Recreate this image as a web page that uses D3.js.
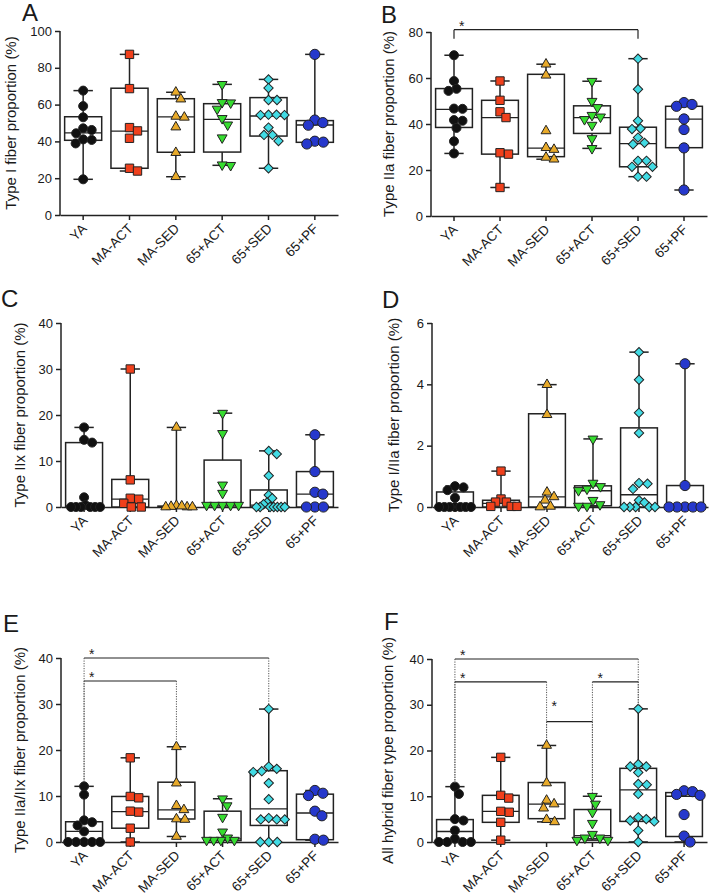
<!DOCTYPE html>
<html><head><meta charset="utf-8">
<script src="https://cdn.jsdelivr.net/npm/d3@7"></script>
<style>
body{margin:0;background:#fff}
svg{display:block}
text{font-family:Arial,"Liberation Sans",sans-serif;fill:#1a1a1a}
</style>
</head><body>
<svg id="chart" width="709" height="895"></svg>
<script>
// ---------- DATA ----------
const groups = ["YA","MA-ACT","MA-SED","65+ACT","65+SED","65+PF"];

// Panel A: Type I fiber proportion (%)
const typeIValues = [
  [67.6, 59.2, 53.1, 47.1, 46.2, 44.4, 41.1, 40.8, 38.9, 19.4],
  [87.3, 68.7, 47.5, 45.7, 41.7, 25.4, 23.9],
  [66.7, 63.0, 53.6, 53.1, 47.8, 33.9, 20.8],
  [71.0, 61.0, 61.2, 57.6, 52.5, 49.0, 42.0, 27.0, 27.3],
  [73.7, 69.0, 62.5, 62.5, 54.5, 54.3, 54.3, 54.5, 47.5, 43.5, 43.5, 40.2, 25.4],
  [87.3, 51.6, 50.2, 48.8, 40.1, 39.6, 38.6]
];
const typeIBoxes = [[40.6,44.6,53.4],[25.4,45.6,68.9],[34.1,53.3,63.2],[34.2,52.0,60.5],[42.9,53.8,63.8],[39.5,48.9,51.3]];
const typeITicks = [0,20,40,60,80,100];

// Panel B: Type IIa
const typeIIaValues = [
  [69.9, 58.7, 55.3, 54.4, 46.7, 46.6, 41.7, 41.4, 38.3, 32.5, 27.2],
  [58.7, 50.3, 45.3, 42.8, 27.5, 26.9, 12.4],
  [66.0, 61.2, 37.0, 29.7, 28.9, 25.5, 24.7],
  [58.6, 49.9, 47.2, 43.8, 43.1, 42.0, 39.5, 33.7, 29.4],
  [68.4, 55.1, 41.4, 38.0, 37.8, 34.1, 31.8, 31.2, 24.0, 24.0, 21.4, 21.4, 17.1, 17.1],
  [49.3, 48.5, 47.7, 42.2, 37.6, 29.6, 11.3]
];
const typeIIaBoxes = [[38.5,46.4,55.4],[26.9,42.8,50.3],[25.8,29.5,61.6],[35.9,42.8,47.9],[21.4,31.5,38.6],[29.7,42.1,47.7]];
const typeIIaTicks = [0,20,40,60,80];

// Panel C: Type IIx
const typeIIxValues = [
  [17.3, 14.6, 14.0, 2.1, 0.4, 0, 0, 0, 0, 0, 0],
  [30.0, 5.9, 1.9, 1.7, 0.8, 0, 0],
  [17.3, 0.3, 0.1, 0, 0, 0, 0.2],
  [20.4, 16.0, 4.8, 3.0, 0.4, 0.4, 0.4, 0.4, 0.4],
  [12.2, 11.5, 6.8, 2.6, 1.9, 1.0, 0.6, 0, 0, 0, 0, 0, 0, 0],
  [15.7, 7.7, 3.2, 2.8, 0, 0, 0]
];
const typeIIxBoxes = [[0,0.2,14.0],[0,1.7,6.0],[0,0.1,0.2],[0,0.4,10.2],[0,0.4,3.7],[0,2.8,7.7]];
const typeIIxTicks = [0,10,20,30,40];

// Panel D: Type I/IIa
const typeIIIaValues = [
  [0.68, 0.64, 0.55, 0.3, 0, 0, 0, 0, 0, 0, 0],
  [1.17, 0.26, 0.16, 0.16, 0.02, 0.02, 0.02],
  [3.99, 3.01, 0.48, 0.33, 0.22, 0.02, 0.0],
  [2.22, 0.78, 0.67, 0.59, 0.54, 0.22, 0.08, 0.03, 0.03],
  [5.05, 4.15, 3.07, 2.41, 0.78, 0.76, 0.59, 0.22, 0.15, 0, 0, 0, 0, 0],
  [4.67, 0.70, 0, 0, 0, 0, 0]
];
const typeIIIaBoxes = [[0,0,0.49],[0,0.12,0.22],[0,0.33,3.04],[0.04,0.53,0.69],[0,0.4,2.58],[0,0,0.7]];
const typeIIIaTicks = [0,2,4,6];

// Panel E: Type IIa/IIx
const typeIIaIIxValues = [
  [12.1, 10.3, 4.7, 4.3, 3.6, 2.3, 0, 0, 0, 0, 0],
  [18.3, 9.9, 9.6, 6.7, 6.5, 3.0, 0],
  [20.7, 12.8, 7.9, 7.0, 5.0, 4.9, 1.2],
  [9.4, 7.9, 5.4, 2.2, 0.9, 0.4, 0.4, 0.4, 0.4],
  [28.9, 16.4, 15.9, 15.4, 15.2, 12.8, 9.3, 5.2, 4.9, 4.9, 4.9, 0, 0, 0],
  [11.2, 10.6, 10.1, 6.7, 5.7, 0.6, 0.4]
];
const typeIIaIIxBoxes = [[0,2.3,4.4],[3.0,6.6,9.9],[5.0,7.0,13.0],[0.3,0.7,6.7],[3.6,7.2,15.5],[0.5,6.3,10.4]];
const typeIIaIIxTicks = [0,10,20,30,40];

// Panel F: All hybrid fiber types
const hybridValues = [
  [12.1, 10.5, 5.0, 4.7, 2.5, 0.7, 0, 0, 0, 0],
  [18.5, 10.2, 9.6, 6.7, 6.5, 4.3, 0.4],
  [21.1, 12.9, 9.1, 8.3, 7.4, 4.9, 4.4],
  [10.0, 8.3, 6.5, 4.1, 1.7, 0.9, 0.4, 0.4, 0.9],
  [29.1, 17.0, 16.5, 16.5, 15.2, 12.7, 12.5, 10.5, 5.4, 5.0, 4.7, 4.5, 2.5, 0],
  [11.2, 11.0, 10.4, 10.2, 6.0, 1.3, 0]
];
const hybridBoxes = [[0,2.3,4.9],[4.3,6.7,10.2],[5.1,8.3,13.0],[0.7,1.4,7.1],[4.5,11.4,16.1],[1.2,10.0,10.8]];
const hybridTicks = [0,10,20,30,40];

// significance comparisons: [groupIndex1, groupIndex2, level]
const sigB = [[0,4,81]];
const sigE = [[0,4,40],[0,2,35]];
const sigF = [[0,4,40],[0,2,35],[3,4,35],[2,3,26.3]];

// ---------- STYLE ----------
const groupColors = ["#111111","#f0401c","#e8aa2a","#36dc30","#42dbe4","#2638cc"];
const groupShapes = ["circle","square","triangle","triangleDown","diamond","circleL"];
const ink = "#222";

const panels = [
  {letter:"A", label:"Type I fiber proportion (%)", values:typeIValues, boxes:typeIBoxes, ticks:typeITicks,
   x0:60, x1:338, yTop:31, yBot:215, letterX:22, letterY:21, labelX:11, sig:[], sigStyle:null},
  {letter:"B", label:"Type IIa fiber proportion (%)", values:typeIIaValues, boxes:typeIIaBoxes, ticks:typeIIaTicks,
   x0:431, x1:707, yTop:32, yBot:216, letterX:381, letterY:23, labelX:389, sig:sigB, sigStyle:"bracket"},
  {letter:"C", label:"Type IIx fiber proportion (%)", values:typeIIxValues, boxes:typeIIxBoxes, ticks:typeIIxTicks,
   x0:61, x1:338, yTop:323, yBot:507, letterX:1, letterY:307, labelX:20, sig:[], sigStyle:null},
  {letter:"D", label:"Type I/IIa fiber proportion (%)", values:typeIIIaValues, boxes:typeIIIaBoxes, ticks:typeIIIaTicks,
   x0:432, x1:708, yTop:323, yBot:507, letterX:382, letterY:308, labelX:394, sig:[], sigStyle:null},
  {letter:"E", label:"Type IIa/IIx fiber proportion (%)", values:typeIIaIIxValues, boxes:typeIIaIIxBoxes, ticks:typeIIaIIxTicks,
   x0:61, x1:338, yTop:658, yBot:842, letterX:3, letterY:632, labelX:20, sig:sigE, sigStyle:"drop"},
  {letter:"F", label:"All hybrid fiber type proportion (%)", values:hybridValues, boxes:hybridBoxes, ticks:hybridTicks,
   x0:432, x1:707, yTop:659, yBot:842, letterX:384, letterY:630, labelX:388, sig:sigF, sigStyle:"drop"}
];

const svg = d3.select("#chart");

function markerPath(shape){
  switch(shape){
    case "circle": return {d:d3.symbol(d3.symbolCircle,64)(), rot:0};
    case "circleL": return {d:d3.symbol(d3.symbolCircle,82)(), rot:0};
    case "square": return {d:d3.symbol(d3.symbolSquare,70)(), rot:0};
    case "triangle": return {d:d3.symbol(d3.symbolTriangle,42)(), rot:0};
    case "triangleDown": return {d:d3.symbol(d3.symbolTriangle,42)(), rot:180};
    case "diamond": return {d:d3.symbol(d3.symbolSquare,44)(), rot:45};
  }
}

// beeswarm offsets (pixels), clusters compressed to half-width L
function swarm(ys, d, L){
  const idx = ys.map((_,i)=>i).sort((a,b)=>ys[a]-ys[b]);
  const clusters=[]; let cur=[];
  idx.forEach((i,k)=>{
    if(k>0 && ys[i]-ys[idx[k-1]] >= d){clusters.push(cur);cur=[];}
    cur.push(i);
  });
  if(cur.length) clusters.push(cur);
  const xs = new Array(ys.length).fill(0);
  clusters.forEach(cl=>{
    const placed=[];
    cl.forEach(i=>{
      let off=0;
      for(let k=0;k<400;k++){
        const c = k===0?0:(k%2?1:-1)*Math.ceil(k/2)*0.5;
        const ok = placed.every(j=>{const dx=xs[j]-c, dy=ys[j]-ys[i]; return dx*dx+dy*dy>=d*d;});
        if(ok){off=c;break;}
      }
      xs[i]=off; placed.push(i);
    });
    const m = d3.max(cl,i=>Math.abs(xs[i]));
    if(m>L) cl.forEach(i=>xs[i]*=L/m);
  });
  return xs;
}

panels.forEach(p=>{
  const x = d3.scaleBand().domain(groups).range([p.x0,p.x1]).padding(0);
  const y = d3.scaleLinear().domain([0,d3.max(p.ticks)]).range([p.yBot,p.yTop]);
  const g = svg.append("g");
  const bw = x.bandwidth();

  // axes
  const ya = g.append("g").attr("transform",`translate(${p.x0},0)`)
    .call(d3.axisLeft(y).tickValues(p.ticks).tickFormat(d3.format("d")).tickSize(5).tickSizeOuter(0).tickPadding(3));
  const xa = g.append("g").attr("transform",`translate(0,${p.yBot})`)
    .call(d3.axisBottom(x).tickSize(5).tickSizeOuter(0));
  [ya,xa].forEach(a=>{
    a.selectAll("path,line").attr("stroke",ink).attr("stroke-width",1.5);
    a.selectAll("text").style("font-size","13px").attr("fill","#1a1a1a");
  });
  ya.select(".domain").attr("d",`M0,${p.yBot+0.75}V${p.yTop}`);
  xa.selectAll(".tick text").attr("x",0).attr("y",0).attr("dy","0.35em")
    .attr("text-anchor","end").style("font-size","13.5px")
    .attr("transform","translate(1,11) rotate(-45)");

  // boxes
  groups.forEach((name,i)=>{
    const vals = p.values[i];
    const [q1,med,q3] = p.boxes[i];
    const cx = x(name)+bw/2;
    const mn=d3.min(vals), mx=d3.max(vals);
    const cw = bw*0.42, bx = bw*0.8;
    g.append("line").attr("x1",cx).attr("x2",cx).attr("y1",y(mn)).attr("y2",y(mx))
      .attr("stroke",ink).attr("stroke-width",1.5);
    [mn,mx].forEach(v=>g.append("line").attr("x1",cx-cw/2).attr("x2",cx+cw/2)
      .attr("y1",y(v)).attr("y2",y(v)).attr("stroke",ink).attr("stroke-width",1.5));
    g.append("rect").attr("x",cx-bx/2).attr("width",bx).attr("y",y(q3))
      .attr("height",Math.max(0.01,y(q1)-y(q3))).attr("fill","#fff")
      .attr("stroke",ink).attr("stroke-width",1.5);
    g.append("line").attr("x1",cx-bx/2).attr("x2",cx+bx/2).attr("y1",y(med)).attr("y2",y(med))
      .attr("stroke",ink).attr("stroke-width",1.3);
    const ys = vals.map(v=>y(v));
    const xs = swarm(ys, 8.2, 16);
    const mk = markerPath(groupShapes[i]);
    vals.forEach((v,k)=>{
      g.append("path").attr("d",mk.d)
        .attr("transform",`translate(${cx+xs[k]},${ys[k]}) rotate(${mk.rot})`)
        .attr("fill",groupColors[i]).attr("stroke",ink).attr("stroke-width",1);
    });
  });

  // significance
  const cxOf = i=>x(groups[i])+bw/2;
  p.sig.forEach(([a,b,lvl])=>{
    const ly = y(lvl);
    g.append("line").attr("x1",cxOf(a)).attr("x2",cxOf(b)).attr("y1",ly).attr("y2",ly)
      .attr("stroke",ink).attr("stroke-width",1.2);
    if(p.sigStyle==="bracket"){
      [a,b].forEach(j=>g.append("line").attr("x1",cxOf(j)).attr("x2",cxOf(j))
        .attr("y1",ly).attr("y2",ly+9).attr("stroke",ink).attr("stroke-width",1.2));
    } else {
      [a,b].forEach(j=>{
        const top = d3.max(p.values[j]);
        g.append("line").attr("x1",cxOf(j)).attr("x2",cxOf(j))
          .attr("y1",ly).attr("y2",y(top+0.8))
          .attr("stroke","#555").attr("stroke-width",1).attr("stroke-dasharray","1.2,1.3");
      });
    }
    const lift = (p.sigStyle==="drop" && lvl<30) ? 14 : 3;
    g.append("text").attr("x",cxOf(a)+5).attr("y",ly-lift+8).text("*")
      .style("font-size","14px").attr("dy","-0.3em");
  });

  // panel letter & y label
  svg.append("text").attr("x",p.letterX).attr("y",p.letterY).text(p.letter)
    .style("font-size","24px");
  svg.append("text").attr("transform",`translate(${p.labelX},${(p.yTop+p.yBot)/2}) rotate(-90)`)
    .attr("text-anchor","middle").attr("dy","0.35em").style("font-size","15px").text(p.label);
});
</script>
</body></html>
